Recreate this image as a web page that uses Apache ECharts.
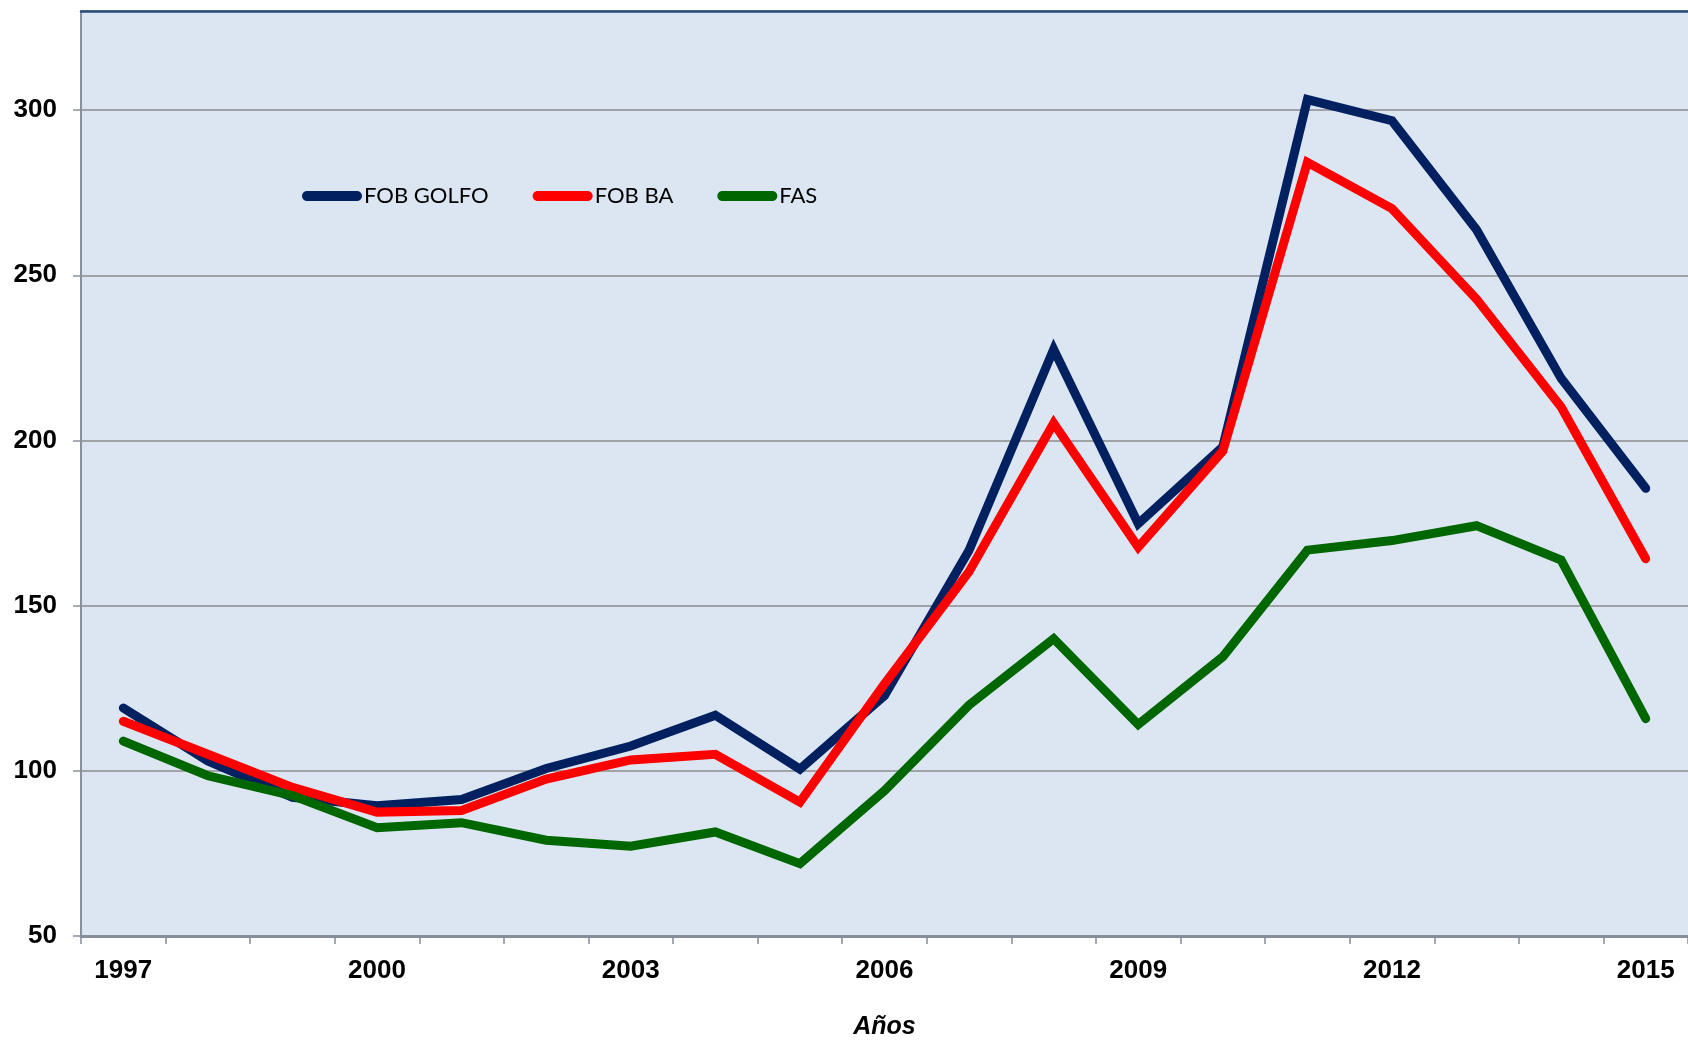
<!DOCTYPE html>
<html>
<head>
<meta charset="utf-8">
<script src="https://cdn.jsdelivr.net/npm/echarts@6/dist/echarts.min.js"></script>
<style>
html,body{margin:0;padding:0;background:#fff;overflow:hidden;}
#chart{width:1688px;height:1045px;}
</style>
</head>
<body>
<div id="chart"></div>
<script>
const years = ['1997','1998','1999','2000','2001','2002','2003','2004','2005','2006','2007','2008','2009','2010','2011','2012','2013','2014','2015'];
const fobGolfo = [119, 103, 92, 89.4, 91.3, 100.7, 107.5, 116.8, 100.5, 122.8, 166.8, 227.6, 174.8, 198.1, 303.2, 296.8, 263.8, 218.8, 185.5];
const fobBA    = [115, 105, 95, 87.5, 88, 97.5, 103.3, 105, 90.5, 126.3, 160.3, 205.2, 167.7, 196.8, 284.2, 270.2, 242.8, 210.1, 164.2];
const fas      = [109, 98.5, 92.5, 82.8, 84.3, 79, 77.2, 81.5, 71.9, 94, 119.9, 140, 114, 134.5, 166.8, 169.7, 174.2, 163.8, 115.8];
const seriesNames = ['FOB GOLFO', 'FOB BA', 'FAS'];
const seriesColors = ['#002060', '#ff0000', '#006600'];

const chart = echarts.init(document.getElementById('chart'), null, {renderer: 'canvas'});
const capsule = 'path://M5,0 L55,0 C57.76,0 60,2.24 60,5 C60,7.76 57.76,10 55,10 L5,10 C2.24,10 0,7.76 0,5 C0,2.24 2.24,0 5,0 Z';
const mkSeries = (name, data, color) => ({
  name: name, type: 'line', data: data, showSymbol: false, symbol: 'none',
  lineStyle: {color: color, width: 9, cap: 'round', join: 'miter'},
  itemStyle: {color: color},
  animation: false
});
chart.setOption({
  animation: false,
  backgroundColor: '#ffffff',
  grid: {left: 81, top: 11, width: 1618, height: 932, show: true, backgroundColor: '#dce6f2', borderWidth: 0, containLabel: false},
  legend: {
    left: 302, top: 185, padding: 0, itemWidth: 60, itemHeight: 11, itemGap: 44,
    icon: capsule,
    textStyle: {fontFamily: 'Lato', fontSize: 22, color: '#000', padding: [0, 0, 0, -3]},
    data: seriesNames.map((n, i) => ({name: n, icon: capsule, itemStyle: {color: seriesColors[i]}}))
  },
  xAxis: [{
    type: 'category', data: years, boundaryGap: true,
    name: 'Años', nameLocation: 'middle', nameGap: 79,
    nameTextStyle: {fontFamily: 'Liberation Sans', fontSize: 25, fontWeight: 'bold', fontStyle: 'italic', color: '#000'},
    axisLine: {lineStyle: {color: '#868e9a', width: 3}},
    axisTick: {show: true, interval: 0, length: 8, lineStyle: {color: '#868e9a', width: 1.5}},
    axisLabel: {interval: 2, margin: 22, fontFamily: 'Liberation Sans', fontSize: 26, fontWeight: 'bold', color: '#000'},
    splitLine: {show: false}
  }, {
    type: 'category', data: years, position: 'top',
    axisLine: {lineStyle: {color: '#2b4a7c', width: 2.5}},
    axisTick: {show: false}, axisLabel: {show: false}, splitLine: {show: false}
  }],
  yAxis: {
    type: 'value', min: 50, max: 330, interval: 50,
    axisLine: {show: true, lineStyle: {color: '#8a909a', width: 2}},
    axisTick: {show: true, length: 8, lineStyle: {color: '#8a909a', width: 1.5}},
    axisLabel: {margin: 24, fontFamily: 'Liberation Sans', fontSize: 26, fontWeight: 'bold', color: '#000', showMaxLabel: false},
    splitLine: {show: true, lineStyle: {color: '#8c8c8c', width: 1.5}}
  },
  series: [
    mkSeries(seriesNames[0], fobGolfo, seriesColors[0]),
    mkSeries(seriesNames[1], fobBA, seriesColors[1]),
    mkSeries(seriesNames[2], fas, seriesColors[2])
  ]
});
</script>
</body>
</html>
